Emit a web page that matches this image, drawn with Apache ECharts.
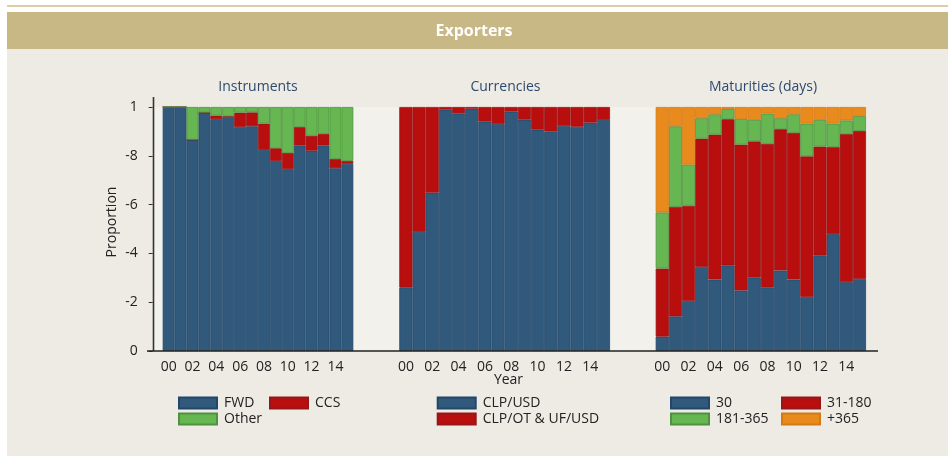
<!DOCTYPE html>
<html>
<head>
<meta charset="utf-8">
<script src="https://cdn.jsdelivr.net/npm/echarts@6/dist/echarts.min.js"></script>
<style>
  html, body { margin: 0; padding: 0; background: #ffffff; }
  #chart { width: 948px; height: 456px; }
</style>
</head>
<body>
<div id="chart"></div>
<script>
// years 2000-2015, only even ones get a label
const years = ['00', '01', '02', '03', '04', '05', '06', '07', '08', '09', '10', '11', '12', '13', '14', '15']

// Instruments
const instrFwd = [1.0, 1.0, 0.866, 0.977, 0.950, 0.959, 0.918, 0.921, 0.824, 0.779, 0.745, 0.842, 0.821, 0.842, 0.749, 0.767]
const instrCcs = [0, 0, 0, 0, 0.015, 0.003, 0.059, 0.057, 0.108, 0.052, 0.067, 0.076, 0.061, 0.048, 0.038, 0.012]
const instrOther = [0, 0, 0.134, 0.023, 0.035, 0.038, 0.023, 0.022, 0.068, 0.169, 0.188, 0.082, 0.118, 0.110, 0.213, 0.221]

// Currencies
const curUsd = [0.261, 0.488, 0.649, 0.989, 0.974, 0.993, 0.940, 0.930, 0.981, 0.948, 0.907, 0.900, 0.922, 0.919, 0.936, 0.947]
const curOther = [0.739, 0.512, 0.351, 0.011, 0.026, 0.007, 0.060, 0.070, 0.019, 0.052, 0.093, 0.100, 0.078, 0.081, 0.064, 0.053]

// Maturities (days)
const mat30 = [0.059, 0.142, 0.205, 0.345, 0.293, 0.351, 0.248, 0.301, 0.261, 0.330, 0.293, 0.222, 0.392, 0.479, 0.282, 0.296]
const mat180 = [0.279, 0.449, 0.390, 0.525, 0.594, 0.599, 0.598, 0.558, 0.588, 0.579, 0.601, 0.576, 0.446, 0.357, 0.607, 0.606]
const mat365 = [0.230, 0.330, 0.169, 0.084, 0.083, 0.042, 0.105, 0.088, 0.124, 0.045, 0.076, 0.134, 0.109, 0.096, 0.056, 0.061]
const matOver = [0.432, 0.079, 0.236, 0.046, 0.030, 0.008, 0.049, 0.053, 0.027, 0.046, 0.030, 0.068, 0.053, 0.068, 0.055, 0.037]

// y ticks as printed on the original
const yTicks = [0, 0.2, 0.4, 0.6, 0.8, 1]
const yTickLabels = ['0', '-2', '-4', '-6', '-8', '1']

const FONT = '"Open Sans", "Noto Sans", sans-serif'
const BLUE = '#31597c'
const RED = '#b80e0e'
const GREEN = '#66b652'
const ORANGE = '#e88a1c'
const BORDER = { [BLUE]: '#22476a', [RED]: '#96161a', [GREEN]: '#4f9140', [ORANGE]: '#d47a14' }

const grids = [
  { left: 162.7, top: 107, width: 190.6, height: 244 },
  { left: 399.3, top: 107, width: 210.7, height: 244 },
  { left: 655.7, top: 107, width: 210.3, height: 244 },
]

function bar(name, data, color, idx) {
  return {
    name: name,
    type: 'bar',
    stack: 'p' + idx,
    xAxisIndex: idx,
    yAxisIndex: idx,
    data: data,
    barCategoryGap: 0,
    itemStyle: { color: color, borderColor: BORDER[color], borderWidth: 0.8 },
    emphasis: { disabled: true },
  }
}

function legend(names, left) {
  return {
    data: names,
    orient: 'vertical',
    left: left,
    top: 396,
    padding: 0,
    itemWidth: 38,
    itemHeight: 11,
    itemGap: 2,
    icon: 'rect',
    selectedMode: false,
    textStyle: { fontFamily: FONT, fontSize: 14, color: '#222', lineHeight: 12, padding: [0, 0, 0, 2] },
  }
}

const chart = echarts.init(document.getElementById('chart'))
chart.setOption({
  animation: false,
  graphic: [
    { type: 'rect', z: -20, silent: true, shape: { x: 7, y: 5, width: 941, height: 2 }, style: { fill: '#dccda7' } },
    { type: 'rect', z: -20, silent: true, shape: { x: 7, y: 12, width: 941, height: 37 }, style: { fill: '#c8b886' } },
    { type: 'rect', z: -20, silent: true, shape: { x: 7, y: 49, width: 941, height: 407 }, style: { fill: '#eeebe5' } },
    { type: 'rect', z: -19, silent: true, shape: { x: 154, y: 107, width: 712, height: 244 }, style: { fill: '#f3f1ec' } },
    { type: 'text', x: 474, y: 31, silent: true, style: { text: 'Exporters', align: 'center', verticalAlign: 'middle', font: 'bold 16px ' + FONT, fill: '#ffffff' } },
    { type: 'text', x: 258, y: 87.5, silent: true, style: { text: 'Instruments', align: 'center', verticalAlign: 'middle', font: '14px ' + FONT, fill: '#2d4a6e' } },
    { type: 'text', x: 505.5, y: 87.5, silent: true, style: { text: 'Currencies', align: 'center', verticalAlign: 'middle', font: '14px ' + FONT, fill: '#2d4a6e' } },
    { type: 'text', x: 763, y: 87.5, silent: true, style: { text: 'Maturities (days)', align: 'center', verticalAlign: 'middle', font: '14px ' + FONT, fill: '#2d4a6e' } },
    { type: 'text', x: 508.5, y: 380, silent: true, style: { text: 'Year', align: 'center', verticalAlign: 'middle', font: '14px ' + FONT, fill: '#222' } },
    { type: 'text', x: 112, y: 222, rotation: Math.PI / 2, silent: true, style: { text: 'Proportion', align: 'center', verticalAlign: 'middle', font: '14px ' + FONT, fill: '#222' } },
    // axis lines
    { type: 'line', z: 10, silent: true, shape: { x1: 153.5, y1: 97, x2: 153.5, y2: 351 }, style: { stroke: '#333', lineWidth: 1.6 } },
    { type: 'line', z: 10, silent: true, shape: { x1: 147, y1: 351, x2: 878, y2: 351 }, style: { stroke: '#222', lineWidth: 1.6 } },
  ],
  grid: grids,
  xAxis: grids.map((g, i) => ({
    type: 'category',
    gridIndex: i,
    data: years,
    axisLine: { show: false },
    axisTick: { show: false },
    axisLabel: { interval: 1, margin: 9, fontFamily: FONT, fontSize: 14, color: '#222' },
  })),
  yAxis: grids.map((g, i) => ({
    type: 'value',
    gridIndex: i,
    min: 0,
    max: 1,
    interval: 0.2,
    show: i === 0,
    offset: 10,
    splitLine: { show: false },
    axisLine: { show: false },
    axisTick: { show: true, length: 4, lineStyle: { color: '#333' } },
    axisLabel: {
      margin: 15,
      fontFamily: FONT,
      fontSize: 14,
      color: '#222',
      formatter: (v) => {
        const k = yTicks.findIndex((t) => Math.abs(t - v) < 1e-6)
        return k >= 0 ? yTickLabels[k] : ''
      },
    },
  })),
  legend: [
    legend(['FWD', 'Other'], 178),
    legend(['CCS'], 269),
    legend(['CLP/USD', 'CLP/OT & UF/USD'], 436.7),
    legend(['30', '181-365'], 670),
    legend(['31-180', '+365'], 781),
  ],
  series: [
    bar('FWD', instrFwd, BLUE, 0),
    bar('CCS', instrCcs, RED, 0),
    bar('Other', instrOther, GREEN, 0),
    bar('CLP/USD', curUsd, BLUE, 1),
    bar('CLP/OT & UF/USD', curOther, RED, 1),
    bar('30', mat30, BLUE, 2),
    bar('31-180', mat180, RED, 2),
    bar('181-365', mat365, GREEN, 2),
    bar('+365', matOver, ORANGE, 2),
  ],
})
</script>
</body>
</html>
